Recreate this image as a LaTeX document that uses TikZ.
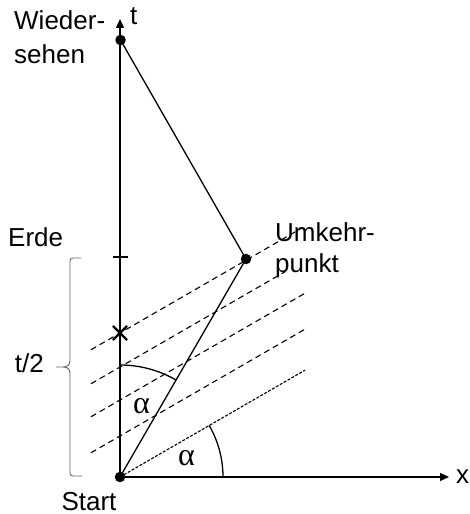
\documentclass[tikz,border=0pt]{standalone}
\usepackage{fontspec}
\setmainfont{Liberation Sans}
\newfontfamily\alphafont{Liberation Serif}
\usetikzlibrary{arrows.meta,calc,shapes.misc}
\begin{document}
\begin{tikzpicture}[x=1pt,y=1pt,
  lbl/.style={font=\fontsize{26}{31}\selectfont, inner sep=0pt},
  alph/.style={font=\alphafont\fontsize{32}{32}\selectfont, inner sep=0pt},
  axis/.style={line width=1.3pt, -{Triangle[length=9pt,width=8pt]}},
  wl/.style={line width=1.3pt},
  sim/.style={line width=1.1pt, dash pattern=on 6pt off 4pt},
  lightcone/.style={line width=1.1pt, dash pattern=on 3pt off 1.5pt},
  ev/.style={circle, fill=black, inner sep=0pt, minimum size=10.5pt},
  crossmark/.style={cross out, draw, line width=2.2pt, minimum size=12pt, inner sep=0pt},
  arcst/.style={line width=1.3pt},
  bracest/.style={draw=gray!80!black, line width=0.9pt}]
\useasboundingbox (0,0) rectangle (469,514);

\coordinate (Oc) at (120,37);
\coordinate (T) at (120,495);
\coordinate (X) at (449,37);
\coordinate (E) at (120,257);

% dashed simultaneity lines
\foreach \c/\r in {181/210.2, 147/190.5, 114/213.6, 78/213.6}
  \draw[sim] ($(120,\c)+(210:33.5)$) -- ($(120,\c)+(30:\r)$);
\draw[lightcone] (Oc) -- ($(Oc)+(30:213.6)$);

% axes
\draw[axis] (Oc) -- (T);
\draw[axis] (Oc) -- (X);

% tick for Erde
\draw[wl] ($(E)+(-7,0)$) -- ($(E)+(8,0)$);

% cross
\node[crossmark] (K) at (120,181) {};

% events
\node[ev] (O) at (Oc) {};
\node[ev] (W) at (120.5,474) {};
\node[ev] (U) at (246,255) {};

% worldline
\draw[wl] (O.center) -- (U.center) -- (W.center);

% angle arcs
\draw[arcst] ($(Oc)+(103,0)$) arc[start angle=0,end angle=30,radius=103];
\draw[arcst] ($(Oc)+(0,112)$) arc[start angle=90,end angle=60,radius=112];
\node[alph] (a1) at (186.5,55.5) {α};
\node[alph] (a2) at (141.5,108) {α};

% brace
\draw[bracest] (81,256) -- (73,256) .. controls (71,256) and (70,255) .. (70,253)
  -- (70,153) .. controls (70,149) and (67,147) .. (63,147) -- (56,147)
  -- (63,147) .. controls (67,147) and (70,145) .. (70,141)
  -- (70,41) .. controls (70,39) and (71,38) .. (73,38) -- (82,38);

% labels
\node[lbl, anchor=base west] (l1) at (14,484) {Wieder-};
\node[lbl, anchor=base west] (l2) at (14,450) {sehen};
\node[lbl, anchor=base west] (l3) at (8,267) {Erde};
\node[lbl, anchor=base west] (l4) at (275,272) {Umkehr-};
\node[lbl, anchor=base west] (l5) at (275,241) {punkt};
\node[lbl, anchor=base east] (l6) at (44,141) {t/2};
\node[lbl, anchor=base] (l7) at (89,4) {Start};
\node[lbl, anchor=base west] (l8) at (130,489) {t};
\node[lbl, anchor=base west] (l9) at (456,30) {x};
\end{tikzpicture}
\end{document}
